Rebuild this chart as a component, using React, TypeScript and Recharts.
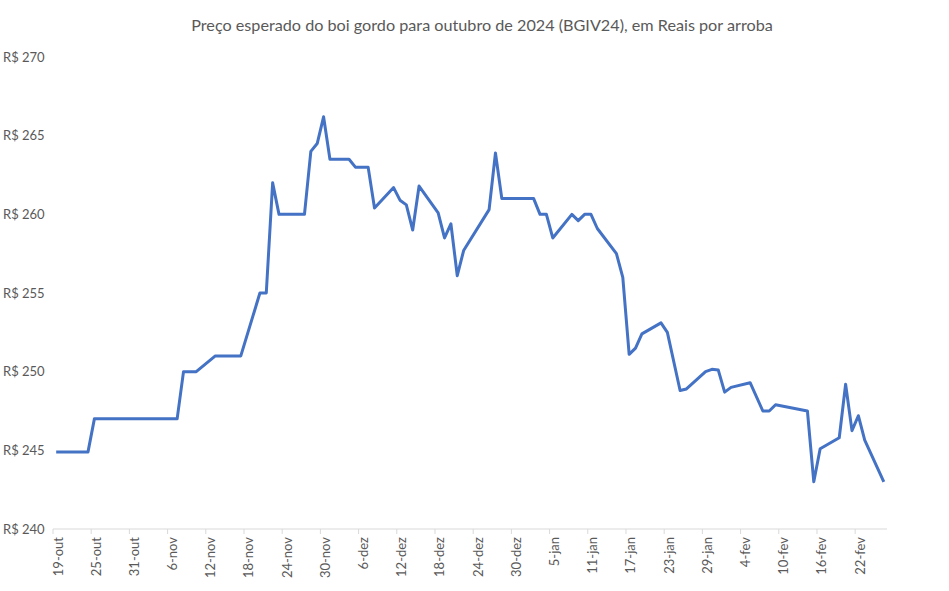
import React from 'react';
import { LineChart, Line, XAxis, YAxis } from 'recharts';

// Datas de pregão (BGIV24) e preço em R$/@
const DATAS = [
  '2023-10-19', '2023-10-24', '2023-10-25', '2023-11-07', '2023-11-08', '2023-11-10',
  '2023-11-13', '2023-11-17', '2023-11-20', '2023-11-21', '2023-11-22', '2023-11-23',
  '2023-11-27', '2023-11-28', '2023-11-29', '2023-11-30', '2023-12-01', '2023-12-04',
  '2023-12-05', '2023-12-07', '2023-12-08', '2023-12-11', '2023-12-12', '2023-12-13',
  '2023-12-14', '2023-12-15', '2023-12-18', '2023-12-19', '2023-12-20', '2023-12-21',
  '2023-12-22', '2023-12-26', '2023-12-27', '2023-12-28', '2024-01-02', '2024-01-03',
  '2024-01-04', '2024-01-05', '2024-01-08', '2024-01-09', '2024-01-10', '2024-01-11',
  '2024-01-12', '2024-01-15', '2024-01-16', '2024-01-17', '2024-01-18', '2024-01-19',
  '2024-01-22', '2024-01-23', '2024-01-25', '2024-01-26', '2024-01-29', '2024-01-30',
  '2024-01-31', '2024-02-01', '2024-02-02', '2024-02-05', '2024-02-07', '2024-02-08',
  '2024-02-09', '2024-02-14', '2024-02-15', '2024-02-16', '2024-02-19', '2024-02-20',
  '2024-02-21', '2024-02-22', '2024-02-23', '2024-02-26',
];

const PRECOS = [
  244.9, 244.9, 247.0, 247.0, 250.0, 250.0,
  251.0, 251.0, 255.0, 255.0, 262.0, 260.0,
  260.0, 264.0, 264.5, 266.2, 263.5, 263.5,
  263.0, 263.0, 260.4, 261.7, 260.9, 260.6,
  259.0, 261.8, 260.1, 258.5, 259.4, 256.1,
  257.7, 260.3, 263.9, 261.0, 261.0, 260.0,
  260.0, 258.5, 260.0, 259.6, 260.0, 260.0,
  259.1, 257.5, 256.0, 251.1, 251.5, 252.4,
  253.1, 252.5, 248.8, 248.9, 250.0, 250.15,
  250.1, 248.7, 249.0, 249.3, 247.5, 247.5,
  247.9, 247.5, 243.0, 245.1, 245.8, 249.2,
  246.25, 247.2, 245.65, 243.0,
];

const TICK_DATAS = [
  '2023-10-19', '2023-10-25', '2023-10-31', '2023-11-06', '2023-11-12', '2023-11-18',
  '2023-11-24', '2023-11-30', '2023-12-06', '2023-12-12', '2023-12-18', '2023-12-24',
  '2023-12-30', '2024-01-05', '2024-01-11', '2024-01-17', '2024-01-23', '2024-01-29',
  '2024-02-04', '2024-02-10', '2024-02-16', '2024-02-22',
];

const TICK_LABELS = [
  '19-out', '25-out', '31-out', '6-nov', '12-nov', '18-nov',
  '24-nov', '30-nov', '6-dez', '12-dez', '18-dez', '24-dez',
  '30-dez', '5-jan', '11-jan', '17-jan', '23-jan', '29-jan',
  '4-fev', '10-fev', '16-fev', '22-fev',
];

const Y_TICKS = [240, 245, 250, 255, 260, 265, 270];
const FIM_EIXO = '2024-02-26';

const FONT = 'Lato, "Open Sans", sans-serif';
const GRAY = '#595959';

const dia = (s: string) => (Date.parse(s) - Date.parse(DATAS[0])) / 86400000;

const data = DATAS.map((d, i) => ({ dia: dia(d), preco: PRECOS[i] }));
// like Excel's date axis, ticks sit on day boundaries and each point in the middle of its day
const xTicks = TICK_DATAS.map((d) => dia(d) - 0.5);

const XTick = (props: any) => {
  const { x, y, payload } = props;
  const idx = xTicks.indexOf(payload.value);
  return (
    <g transform={`translate(${x + 9.5},${y})`}>
      <text x={0} y={0} textAnchor="end" transform="rotate(-90)" fill={GRAY} fontSize={13} fontFamily={FONT}>
        {TICK_LABELS[idx]}
      </text>
    </g>
  );
};

const YTick = (props: any) => {
  const { y, payload } = props;
  return (
    <text x={3} y={y} dy={4.5} textAnchor="start" fill={GRAY} fontSize={13} fontFamily={FONT}>
      {`R$ ${payload.value}`}
    </text>
  );
};

export default function App() {
  return (
    <div style={{ position: 'absolute', left: 0, top: 0, width: 949, height: 591, background: '#fff' }}>
      <div
        style={{
          position: 'absolute', left: 0, top: 15, width: 964, textAlign: 'center',
          fontFamily: FONT, fontSize: 16.2, color: GRAY,
        }}
      >
        Preço esperado do boi gordo para outubro de 2024 (BGIV24), em Reais por arroba
      </div>
      <LineChart width={949} height={591} data={data} margin={{ top: 57, right: 62, left: 0, bottom: 0 }}>
        <XAxis
          dataKey="dia"
          type="number"
          domain={[-0.5, dia(FIM_EIXO) + 0.5]}
          ticks={xTicks}
          interval={0}
          height={62}
          stroke="#d9d9d9"
          tickSize={5}
          tickMargin={3}
          tick={<XTick />}
        />
        <YAxis
          domain={[240, 270]}
          ticks={Y_TICKS}
          width={53}
          axisLine={false}
          tickLine={false}
          tick={<YTick />}
        />
        <Line
          type="linear"
          dataKey="preco"
          stroke="#4472C4"
          strokeWidth={3}
          strokeLinejoin="round"
          dot={false}
          isAnimationActive={false}
        />
      </LineChart>
    </div>
  );
}
